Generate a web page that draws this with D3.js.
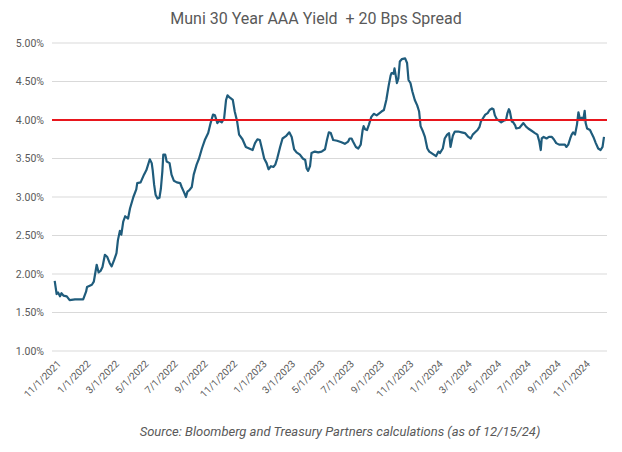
<!DOCTYPE html>
<html><head><meta charset="utf-8">
<script src="https://cdn.jsdelivr.net/npm/d3@7"></script>
<style>body{margin:0;background:#fff}svg{display:block}</style>
</head><body><div id="chart"></div>
<script>
const title = "Muni 30 Year AAA Yield  + 20 Bps Spread";
const source = "Source: Bloomberg and Treasury Partners calculations (as of 12/15/24)";
const threshold = 4.0;
const yTicks = [1.0, 1.5, 2.0, 2.5, 3.0, 3.5, 4.0, 4.5, 5.0];
const xTickDates = ["2021-11-01","2022-01-01","2022-03-01","2022-05-01","2022-07-01","2022-09-01","2022-11-01","2023-01-01","2023-03-01","2023-05-01","2023-07-01","2023-09-01","2023-11-01","2024-01-01","2024-03-01","2024-05-01","2024-07-01","2024-09-01","2024-11-01"];

const dates = [
"2021-11-01","2021-11-05","2021-11-08","2021-11-12","2021-11-15","2021-11-19","2021-11-26","2021-12-02","2021-12-13","2021-12-30",
"2022-01-05","2022-01-07","2022-01-17","2022-01-21","2022-01-27","2022-01-31","2022-02-04","2022-02-08","2022-02-13","2022-02-18",
"2022-02-23","2022-02-27","2022-03-04","2022-03-09","2022-03-12","2022-03-16","2022-03-19","2022-03-23","2022-03-27","2022-04-02",
"2022-04-06","2022-04-13","2022-04-19","2022-04-21","2022-04-28","2022-05-05","2022-05-10","2022-05-17","2022-05-21","2022-05-23",
"2022-05-26","2022-05-29","2022-06-02","2022-06-06","2022-06-09","2022-06-12","2022-06-14","2022-06-18","2022-06-21","2022-06-27",
"2022-07-01","2022-07-06","2022-07-12","2022-07-19","2022-07-22","2022-07-27","2022-07-31","2022-08-03","2022-08-07","2022-08-12",
"2022-08-16","2022-08-22","2022-08-27","2022-09-02","2022-09-08","2022-09-15","2022-09-20","2022-09-25","2022-09-29","2022-10-04",
"2022-10-08","2022-10-13","2022-10-18","2022-10-22","2022-10-25","2022-10-30","2022-11-05","2022-11-09","2022-11-14","2022-11-18",
"2022-11-25","2022-12-02","2022-12-09","2022-12-16","2022-12-21","2022-12-26","2022-12-31","2023-01-05","2023-01-09","2023-01-14",
"2023-01-18","2023-01-23","2023-01-28","2023-02-01","2023-02-05","2023-02-11","2023-02-16","2023-02-23","2023-03-02","2023-03-07",
"2023-03-12","2023-03-17","2023-03-24","2023-03-30","2023-04-04","2023-04-07","2023-04-10","2023-04-14","2023-04-17","2023-04-24",
"2023-05-01","2023-05-08","2023-05-15","2023-05-19","2023-05-23","2023-05-27","2023-06-01","2023-06-09","2023-06-18","2023-06-25",
"2023-07-02","2023-07-05","2023-07-09","2023-07-12","2023-07-18","2023-07-23","2023-07-28","2023-08-01","2023-08-03","2023-08-06",
"2023-08-10","2023-08-14","2023-08-19","2023-08-24","2023-08-30","2023-09-05","2023-09-09","2023-09-14","2023-09-19","2023-09-24",
"2023-09-28","2023-09-30","2023-10-04","2023-10-06","2023-10-09","2023-10-11","2023-10-14","2023-10-17","2023-10-21","2023-10-28",
"2023-11-01","2023-11-04","2023-11-08","2023-11-12","2023-11-17","2023-11-22","2023-11-26","2023-11-29","2023-12-04","2023-12-08",
"2023-12-13","2023-12-17","2023-12-24","2023-12-31","2024-01-05","2024-01-08","2024-01-14","2024-01-18","2024-01-23","2024-01-27",
"2024-01-30","2024-02-04","2024-02-08","2024-02-15","2024-02-22","2024-02-29","2024-03-07","2024-03-12","2024-03-16","2024-03-21",
"2024-03-26","2024-03-30","2024-04-02","2024-04-06","2024-04-11","2024-04-16","2024-04-20","2024-04-25","2024-04-28","2024-05-01",
"2024-05-05","2024-05-10","2024-05-14","2024-05-19","2024-05-24","2024-05-27","2024-05-30","2024-06-01","2024-06-05","2024-06-08",
"2024-06-12","2024-06-14","2024-06-21","2024-06-29","2024-07-05","2024-07-09","2024-07-16","2024-07-23","2024-07-28","2024-08-01",
"2024-08-04","2024-08-06","2024-08-10","2024-08-16","2024-08-21","2024-08-27","2024-08-31","2024-09-05","2024-09-11","2024-09-18",
"2024-09-23","2024-09-26","2024-09-30","2024-10-04","2024-10-07","2024-10-10","2024-10-14","2024-10-18","2024-10-21","2024-10-24",
"2024-10-28","2024-10-31","2024-11-03","2024-11-05","2024-11-08","2024-11-14","2024-11-17","2024-11-21","2024-11-26","2024-12-01",
"2024-12-06","2024-12-10","2024-12-13"
];

const yields = [
1.91,1.74,1.76,1.71,1.75,1.72,1.71,1.66,1.67,1.67,
1.77,1.83,1.86,1.90,2.12,2.02,2.04,2.09,2.25,2.22,
2.14,2.10,2.18,2.27,2.44,2.56,2.51,2.68,2.75,2.72,
2.85,3.00,3.10,3.18,3.19,3.29,3.35,3.49,3.44,3.35,
3.16,3.03,2.98,2.99,3.11,3.33,3.55,3.55,3.46,3.44,
3.29,3.21,3.19,3.18,3.13,3.06,3.00,3.07,3.09,3.13,
3.29,3.42,3.50,3.63,3.74,3.83,3.96,4.07,4.06,3.96,
3.99,3.97,4.02,4.26,4.32,4.29,4.26,4.11,3.98,3.81,
3.75,3.65,3.63,3.61,3.70,3.75,3.74,3.61,3.50,3.44,
3.36,3.40,3.39,3.42,3.50,3.65,3.76,3.79,3.84,3.78,
3.62,3.58,3.55,3.50,3.48,3.37,3.34,3.40,3.57,3.59,
3.58,3.59,3.62,3.74,3.84,3.83,3.74,3.73,3.71,3.69,
3.72,3.76,3.76,3.72,3.65,3.63,3.68,3.87,3.92,3.88,
3.87,3.94,4.04,4.08,4.06,4.09,4.11,4.13,4.26,4.45,
4.58,4.61,4.60,4.67,4.56,4.48,4.54,4.76,4.79,4.80,
4.74,4.52,4.48,4.37,4.26,4.19,4.11,3.92,3.85,3.78,
3.63,3.59,3.56,3.53,3.59,3.57,3.63,3.76,3.81,3.83,
3.65,3.80,3.85,3.85,3.84,3.83,3.78,3.76,3.81,3.84,
3.87,3.91,3.98,4.02,4.07,4.09,4.13,4.15,4.14,4.06,
4.01,3.99,3.97,3.99,4.00,4.09,4.14,4.11,3.98,3.97,
3.93,3.89,3.90,3.96,3.91,3.89,3.86,3.83,3.81,3.72,
3.61,3.76,3.78,3.76,3.78,3.78,3.75,3.70,3.68,3.68,
3.68,3.65,3.68,3.76,3.81,3.84,3.81,3.94,4.10,4.02,
4.03,4.00,4.12,3.96,3.89,3.87,3.83,3.78,3.70,3.63,
3.61,3.65,3.78
];

const W = 622, H = 452;
const parse = d3.timeParse("%Y-%m-%d");
const data = dates.map((d, i) => ({date: parse(d), value: yields[i]}));

const svg = d3.select("#chart").append("svg").attr("width", W).attr("height", H);

const x = d3.scaleTime()
  .domain([parse("2021-11-01"), parse("2024-12-13")])
  .range([54.7, 604]);
const y = d3.scaleLinear().domain([1, 5]).range([351, 43]);
const gridX0 = 52, gridX1 = 607;
const fontFam = "Roboto, 'Open Sans', sans-serif";
const grey = "#595959";

// title
svg.append("text")
  .attr("x", 316).attr("y", 24)
  .attr("text-anchor", "middle")
  .style("white-space", "pre")
  .attr("font-family", fontFam)
  .attr("font-size", 16)
  .attr("fill", grey)
  .text(title);

// gridlines
svg.append("g").selectAll("line").data(yTicks).join("line")
  .attr("x1", gridX0).attr("x2", gridX1)
  .attr("y1", d => y(d)).attr("y2", d => y(d))
  .attr("stroke", "#d9d9d9").attr("stroke-width", 1);

// y labels via axis
const yAxis = d3.axisLeft(y).tickValues(yTicks).tickSize(0).tickPadding(0)
  .tickFormat(d => d3.format(".2f")(d) + "%");
const gy = svg.append("g").attr("transform", "translate(44,0)").call(yAxis);
gy.select(".domain").remove();
gy.selectAll("text").attr("font-family", fontFam).attr("font-size", 10.5).attr("fill", grey);

// x labels via axis
const xAxis = d3.axisBottom(x).tickValues(xTickDates.map(parse)).tickSize(0)
  .tickFormat(d3.timeFormat("%-m/%-d/%Y"));
const gx = svg.append("g").attr("transform", "translate(0,356)").call(xAxis);
gx.select(".domain").remove();
gx.selectAll("text")
  .attr("font-family", fontFam).attr("font-size", 10).attr("fill", grey)
  .attr("text-anchor", "end")
  .attr("dy", "0.35em")
  .attr("transform", "translate(2,4) rotate(-45)");

// line
const line = d3.line().x(d => x(d.date)).y(d => y(d.value));
svg.append("path").datum(data)
  .attr("d", line)
  .attr("fill", "none")
  .attr("stroke", "#1f5c7c")
  .attr("stroke-width", 2.2)
  .attr("stroke-linejoin", "round");

// threshold
svg.append("line")
  .attr("x1", gridX0).attr("x2", gridX1)
  .attr("y1", y(threshold)).attr("y2", y(threshold))
  .attr("stroke", "#e8161d").attr("stroke-width", 2);

// source
svg.append("text")
  .attr("x", 340).attr("y", 436)
  .attr("text-anchor", "middle")
  .attr("font-family", fontFam)
  .attr("font-style", "italic")
  .attr("font-size", 13)
  .attr("fill", grey)
  .text(source);
</script>
</body></html>
